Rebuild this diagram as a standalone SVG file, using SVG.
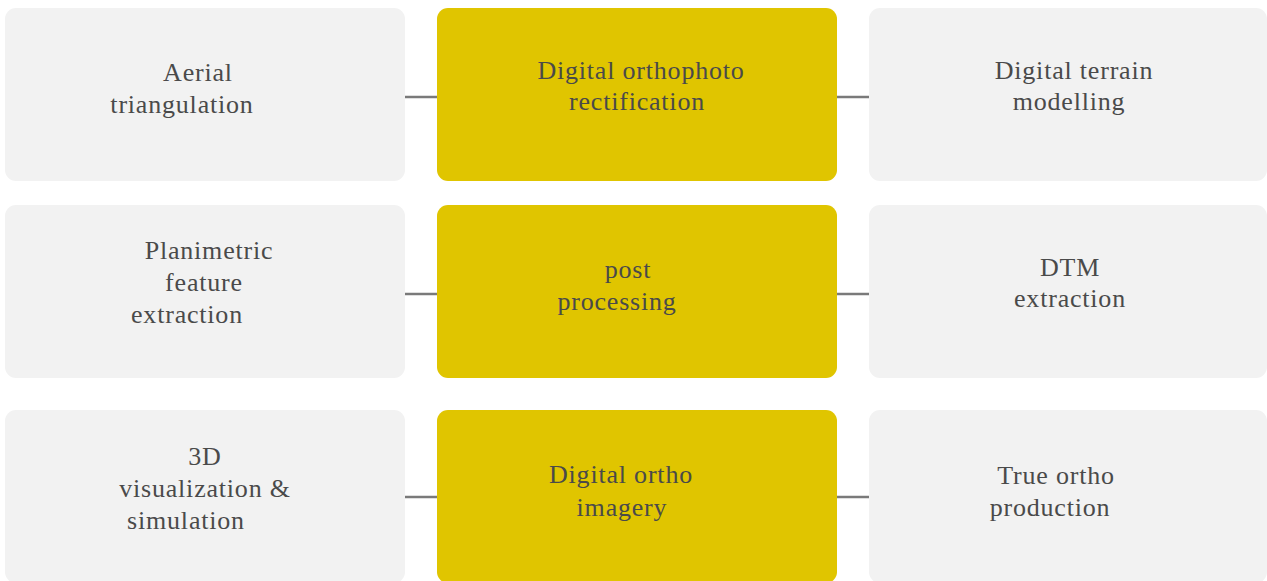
<svg xmlns="http://www.w3.org/2000/svg" width="1267" height="581" viewBox="0 0 1267 581">
<style>
.g{fill:#f2f2f2}
.y{fill:#e0c500}
.t{font-size:26px;fill:#4a4a4a;text-anchor:middle;letter-spacing:0.8px}
.c{stroke:#7a7a7a;stroke-width:2.5;fill:none}
</style>
<rect width="1267" height="581" fill="#ffffff"/>
<g id="connectors">
<line class="c" x1="405" y1="97" x2="437" y2="97"/>
<line class="c" x1="837" y1="97" x2="869" y2="97"/>
<line class="c" x1="405" y1="294" x2="437" y2="294"/>
<line class="c" x1="837" y1="294" x2="869" y2="294"/>
<line class="c" x1="405" y1="497" x2="437" y2="497"/>
<line class="c" x1="837" y1="497" x2="869" y2="497"/>
</g>
<g id="nodes" font-family="Liberation Serif, serif">
<g id="aerial-triangulation">
<rect class="g" x="5" y="8" width="400" height="173" rx="11"/>
<text class="t" x="198" y="81">Aerial</text>
<text class="t" x="182" y="113">triangulation</text>
</g>
<g id="digital-orthophoto-rectification">
<rect class="y" x="437" y="8" width="400" height="173" rx="11"/>
<text class="t" x="641" y="79">Digital orthophoto</text>
<text class="t" x="637" y="110">rectification</text>
</g>
<g id="digital-terrain-modelling">
<rect class="g" x="869" y="8" width="398" height="173" rx="11"/>
<text class="t" x="1074" y="79">Digital terrain</text>
<text class="t" x="1069" y="110">modelling</text>
</g>
<g id="planimetric-feature-extraction">
<rect class="g" x="5" y="205" width="400" height="173" rx="11"/>
<text class="t" x="209" y="259">Planimetric</text>
<text class="t" x="204" y="291">feature</text>
<text class="t" x="187" y="323">extraction</text>
</g>
<g id="post-processing">
<rect class="y" x="437" y="205" width="400" height="173" rx="11"/>
<text class="t" x="628" y="278">post</text>
<text class="t" x="617" y="310">processing</text>
</g>
<g id="dtm-extraction">
<rect class="g" x="869" y="205" width="398" height="173" rx="11"/>
<text class="t" x="1070" y="276">DTM</text>
<text class="t" x="1070" y="307">extraction</text>
</g>
<g id="visualization-simulation">
<rect class="g" x="5" y="410" width="400" height="173" rx="11"/>
<text class="t" x="205" y="465">3D</text>
<text class="t" x="205" y="497">visualization &amp;</text>
<text class="t" x="186" y="529">simulation</text>
</g>
<g id="digital-ortho-imagery">
<rect class="y" x="437" y="410" width="400" height="173" rx="11"/>
<text class="t" x="621" y="483">Digital ortho</text>
<text class="t" x="622" y="516">imagery</text>
</g>
<g id="true-ortho-production">
<rect class="g" x="869" y="410" width="398" height="173" rx="11"/>
<text class="t" x="1056" y="484">True ortho</text>
<text class="t" x="1050" y="516">production</text>
</g>
</g>
</svg>
